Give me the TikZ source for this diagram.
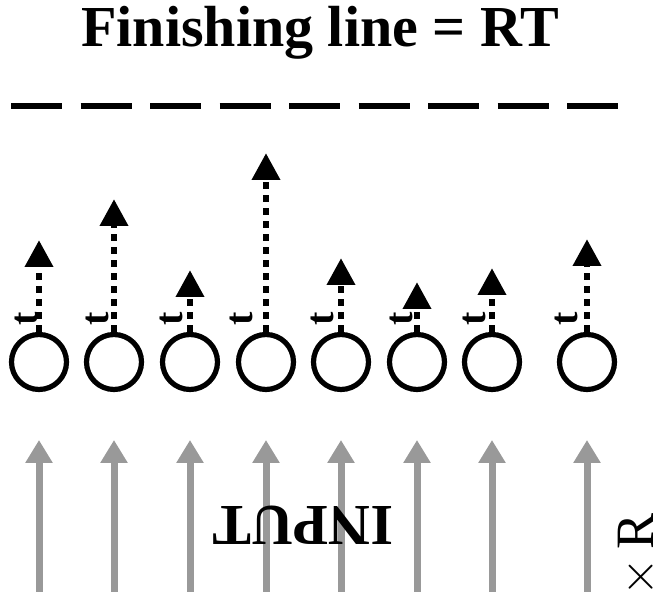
\documentclass[tikz,border=0pt]{standalone}
\usepackage{fontspec}
\setmainfont{Liberation Serif}
\usetikzlibrary{arrows.meta}
\tikzset{
  unit/.style={circle, draw, line width=2.6pt, minimum size=27.5pt, inner sep=0pt},
  race/.style={-{Triangle[width=13.5pt, length=13.5pt]}, line width=3.3pt,
               dash pattern=on 3.25pt off 3.25pt},
  feed/.style={-{Triangle[width=13pt, length=11.5pt]}, line width=3.5pt, black!40},
  tlbl/.style={rotate=90, anchor=base, inner sep=0pt, font=\fontsize{20}{20}\selectfont\bfseries},
  big/.style={anchor=base, inner sep=0pt, font=\fontsize{29}{30}\selectfont\bfseries}
}

\begin{document}
\begin{tikzpicture}[x=0.5pt, y=-0.5pt]
    \useasboundingbox (0,0) rectangle (665,608);
    % title and finishing line
    \node[big] (title) at (320,47) {Finishing line = RT};
    \coordinate (fl) at (11,106);
    \coordinate (fr) at (618,106);
    \draw[line width=3pt, dash pattern=on 25.5pt off 9.25pt] (fl) -- (fr);

    % accumulators
    \node[unit] (c1) at (39,362) {};
    \node[unit] (c2) at (114,362) {};
    \node[unit] (c3) at (190,362) {};
    \node[unit] (c4) at (266,362) {};
    \node[unit] (c5) at (341,362) {};
    \node[unit] (c6) at (417,362) {};
    \node[unit] (c7) at (492,362) {};
    \node[unit] (c8) at (587,362) {};

    % how far each one got
    \coordinate (h1) at (39,240);
    \coordinate (h2) at (114,199);
    \coordinate (h3) at (190,270);
    \coordinate (h4) at (266,153);
    \coordinate (h5) at (341,258);
    \coordinate (h6) at (417,282);
    \coordinate (h7) at (492,268);
    \coordinate (h8) at (587,239);
    \foreach \i in {1,...,8}
      \draw[race] (c\i.north) -- (h\i);

    \node[tlbl] (t1) at (38,319) {t};
    \node[tlbl] (t2) at (108,319) {t};
    \node[tlbl] (t3) at (182,319) {t};
    \node[tlbl] (t4) at (252,319) {t};
    \node[tlbl] (t5) at (333,319) {t};
    \node[tlbl] (t6) at (412,319) {t};
    \node[tlbl] (t7) at (485,319) {t};
    \node[tlbl] (t8) at (577,319) {t};

    % input arrows
    \foreach \x [count=\i] in {39,114,190,266,341,417,492,587} {
      \coordinate (in\i) at (\x,592);
      \coordinate (up\i) at (\x,440);
      \draw[feed] (in\i) -- (up\i);
    }
    \node[big, rotate=180] (input) at (303,507) {INPUT};
    \node[anchor=base, rotate=90, inner sep=0pt, font=\fontsize{27}{27}\selectfont] (rep) at (653,555) {$\times$\,R};
\end{tikzpicture}
\end{document}
